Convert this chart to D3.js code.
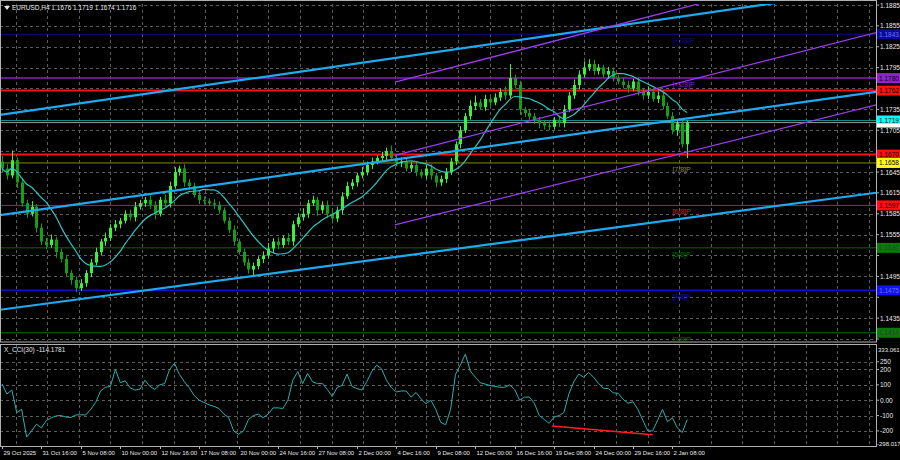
<!DOCTYPE html>
<html>
<head>
<meta charset="utf-8">
<script src="https://cdn.jsdelivr.net/npm/d3@7"></script>
<style>
  body { margin: 0; background: #000; }
  svg { display: block; font-family: "Liberation Sans", Arial, sans-serif; }
</style>
</head>
<body>
<svg id="chart" width="900" height="460"></svg>
<script>
// EURUSD H4, one candle here = 8 hours (two H4 bars)
const closePips = [
  650,640,662,630,600,585,595,565,545,540, 548,530,520,500,490,478,485,500,515,530,
  545,550,565,570,575,585,580,595,600,605, 598,585,605,600,625,645,650,630,625,612,
  605,603,600,598,590,575,562,545,530,515, 505,510,520,525,535,545,540,550,545,570,
  580,585,600,605,590,598,585,578,590,610, 625,630,640,645,655,660,665,668,675,665,
  658,660,650,655,645,640,650,640,630,635, 645,660,685,705,725,740,745,738,750,745,
  752,760,755,780,770,735,730,725,720,715, 712,710,720,715,735,755,770,785,795,800,
  790,795,785,790,780,775,770,765,775,760, 755,760,750,755,740,725,705,715,685,716
];
// wick lengths in pips, above and below the body
const wickUp = [
  8,6,14,4,6,5,8,4,6,5, 7,4,5,6,4,5,6,4,5,6, 4,8,5,6,4,5,6,7,5,4, 6,5,4,8,6,7,4,6,5,4,
  6,5,4,6,5,4,5,6,4,5, 6,5,4,6,8,5,6,4,7,5, 6,8,5,6,4,5,6,7,5,6, 6,5,4,7,5,6,4,6,5,8,
  5,6,4,5,6,4,5,6,4,5, 6,5,4,6,5,8,10,5,6,4, 6,5,8,20,5,6,4,6,5,4, 5,6,4,5,6,5,8,6,9,7,
  6,5,4,6,5,4,5,6,4,5, 6,8,5,6,4,5,6,4,5,3
];
const wickDn = [
  5,6,4,8,5,6,4,7,5,6, 4,8,5,6,7,6,4,5,6,4, 5,6,4,5,6,4,5,6,4,5, 6,8,4,5,6,4,5,6,5,4,
  6,5,4,6,5,4,5,6,4,5, 6,8,5,6,4,5,6,4,5,6, 4,5,6,4,8,5,6,7,5,6, 4,5,6,4,5,6,4,5,6,4,
  5,6,4,5,6,4,5,6,7,5, 6,4,5,6,4,5,6,4,5,6, 4,5,6,4,5,8,6,5,6,7, 6,5,4,5,6,4,5,6,4,5,
  6,5,4,6,5,4,5,6,4,5, 6,5,4,6,5,4,6,8,5,20
];
const firstOpen = 1.1660;
const cciValues = [
  106,40,66,-80,-60,-240,-200,-156,-180,-132, -115,-102,-100,-110,-112,-96,-95,-96,-60,-15,
  60,84,90,200,114,126,80,66,72,130, 90,70,100,108,200,240,168,120,80,30,
  0,-15,-30,-40,-54,-90,-114,-200,-222,-200, -126,-100,-90,-114,-90,-50,-50,-54,0,130,
  186,108,174,120,108,108,70,24,84,96, 170,90,75,66,120,186,228,204,130,80,
  54,60,60,20,50,10,-24,0,-60,-144, -160,-60,168,230,300,190,150,114,105,96,
  90,84,84,100,70,0,20,20,-20,-100, -125,-150,-110,-100,-80,40,120,170,150,180,
  150,110,78,75,48,45,6,-20,-10,-60, -130,-200,-200,-130,-60,-140,-114,-180,-210,-126
];
const dateLabels = ["29 Oct 2025","31 Oct 16:00","5 Nov 08:00","10 Nov 00:00","12 Nov 16:00",
  "17 Nov 08:00","20 Nov 00:00","24 Nov 16:00","27 Nov 08:00","2 Dec 00:00","4 Dec 16:00",
  "9 Dec 08:00","12 Dec 00:00","16 Dec 16:00","19 Dec 08:00","24 Dec 00:00","29 Dec 16:00","2 Jan 08:00"];
const priceTicks = d3.range(1.1405, 1.1886, 0.0030);
const cciTicks = [250, 200, 100, 0, -100, -200];

// Murrey levels
const levelPrices = [1.1843, 1.1780, 1.1762, 1.1719, 1.1670, 1.1658, 1.1597, 1.1536, 1.1475, 1.1414];
const levelTags   = ["[+2/8]P","[+1/8]P",null,"[8/8]P",null,"[7/8]P","[6/8]P","[5/8]P","[4/8]P","[3/8]P"];
const levelLine   = ["#0a0a8c","#8a1ec8","#ff1010","#108c8c","#ff1010","#8c8c00","#e01010","#0a6a0a","#1010c8","#0a6a0a"];
const levelBox    = ["#0a0a9c","#9020d0","#ff1010","#00ffff","#ff1010","#ffff00","#ff1010","#0a7a0a","#1010ff","#0a7a0a"];
const levelWidth  = [1,1.5,2,1,2,1,1,1,1.5,1];

// trend lines: [bar0, price0, bar1, price1]
const blueLines = [[-0.4,1.1727,160.9,1.1892],[-0.4,1.1583,177.1,1.1760],[-0.4,1.1447,177.1,1.1615]];
const purpleLines = [[79.7,1.1774,144.2,1.1892],[79.7,1.1669,177.1,1.1845],[79.7,1.1569,177.1,1.1741]];
const cciDivergence = [111.6,-168,132,-225];

const W = 876, mainTop = 4, mainBot = 341, cciTop = 345, cciBot = 446;
const svg = d3.select("#chart");
const x = d3.scaleLinear().domain([-0.4, 177.3]).range([0, W]);
const y = d3.scaleLinear().domain([1.1405, 1.1885]).range([339, 5]);
const yc = d3.scaleLinear().domain([-298.017, 333.061]).range([446, 349]);

const candles = closePips.map((p, i) => {
  const c = 1.1 + p / 10000;
  const o = i ? 1.1 + closePips[i - 1] / 10000 : firstOpen;
  return { i, o, c, h: Math.max(o, c) + wickUp[i] / 10000, l: Math.min(o, c) - wickDn[i] / 10000 };
});

svg.append("clipPath").attr("id", "mainClip").append("rect")
  .attr("x", 0).attr("y", mainTop).attr("width", W).attr("height", mainBot - mainTop);
svg.append("clipPath").attr("id", "cciClip").append("rect")
  .attr("x", 0).attr("y", cciTop).attr("width", W).attr("height", cciBot - cciTop);

// grid
const grid = svg.append("g").attr("stroke", "#5c5c5c").attr("stroke-dasharray", "3,3").attr("stroke-width", 1);
d3.range(0, 28).forEach(k => {
  const gx = Math.round(15.5 + 31.6 * k) + 0.5;
  if (gx < W) {
    grid.append("line").attr("x1", gx).attr("x2", gx).attr("y1", mainTop).attr("y2", mainBot);
    grid.append("line").attr("x1", gx).attr("x2", gx).attr("y1", cciTop).attr("y2", cciBot);
  }
});
priceTicks.forEach(t => grid.append("line").attr("x1", 0).attr("x2", W)
  .attr("y1", Math.round(y(t)) + 0.5).attr("y2", Math.round(y(t)) + 0.5));
cciTicks.forEach(t => grid.append("line").attr("x1", 0).attr("x2", W)
  .attr("y1", Math.round(yc(t)) + 0.5).attr("y2", Math.round(yc(t)) + 0.5));

const main = svg.append("g").attr("clip-path", "url(#mainClip)");

// levels
levelPrices.forEach((p, k) => {
  main.append("line").attr("x1", 0).attr("x2", W).attr("y1", y(p)).attr("y2", y(p))
    .attr("stroke", levelLine[k]).attr("stroke-width", levelWidth[k]);
  if (levelTags[k]) main.append("text").attr("x", x(136)).attr("y", y(p) + 9)
    .attr("font-size", 7).attr("fill", levelLine[k] === "#108c8c" ? "#1aa0a0" : levelLine[k]).text(levelTags[k]);
});
main.append("line").attr("x1", 0).attr("x2", W).attr("y1", y(1.1716)).attr("y2", y(1.1716))
  .attr("stroke", "#9a9a9a").attr("stroke-width", 1);

// candles
const bull = candles.filter(d => d.c >= d.o), bear = candles.filter(d => d.c < d.o);
[[bull, "#3cf03c"], [bear, "#14a014"]].forEach(([set, col]) => {
  const px = d => Math.round(x(d.i)) + 0.5;
  main.append("path").attr("stroke", col).attr("stroke-width", 1).attr("fill", "none")
    .attr("d", set.map(d => `M${px(d)},${y(d.h).toFixed(1)}V${y(d.l).toFixed(1)}`).join(""));
  main.append("path").attr("fill", col)
    .attr("d", set.map(d => {
      const top = y(Math.max(d.o, d.c)), h = Math.max(1, Math.abs(y(d.o) - y(d.c)));
      return `M${px(d) - 1.5},${top.toFixed(1)}h3v${h.toFixed(1)}h-3Z`;
    }).join(""));
});

// moving average of closes
const maLen = 10;
const ma = candles.map((d, i) => {
  const s = candles.slice(Math.max(0, i - maLen + 1), i + 1);
  return { i, v: d3.mean(s, e => e.c) };
});
main.append("path").datum(ma).attr("fill", "none").attr("stroke", "#2ec4c4").attr("stroke-width", 1.2)
  .attr("d", d3.line().x(d => x(d.i)).y(d => y(d.v)).curve(d3.curveMonotoneX));

// trend lines
function extend(l, far) {
  const [a0, p0, a1, p1] = l, s = (p1 - p0) / (a1 - a0);
  return [x(a0), y(p0), x(far), y(p0 + s * (far - a0))];
}
blueLines.forEach(l => {
  const [x1, y1, x2, y2] = extend(l, 180);
  main.append("line").attr("x1", x1).attr("y1", y1).attr("x2", x2).attr("y2", y2)
    .attr("stroke", "#1eaaf0").attr("stroke-width", 2.2);
});
purpleLines.forEach(l => {
  const [x1, y1, x2, y2] = extend(l, 180);
  main.append("line").attr("x1", x1).attr("y1", y1).attr("x2", x2).attr("y2", y2)
    .attr("stroke", "#9a3cf0").attr("stroke-width", 1.3);
});

// CCI panel
const cg2 = svg.append("g").attr("clip-path", "url(#cciClip)");
cg2.append("path").datum(cciValues).attr("fill", "none").attr("stroke", "#2ab0b0").attr("stroke-width", 1)
  .attr("d", d3.line().x((d, i) => x(i)).y(d => yc(d)));
cg2.append("line").attr("x1", x(cciDivergence[0])).attr("y1", yc(cciDivergence[1]))
  .attr("x2", x(cciDivergence[2])).attr("y2", yc(cciDivergence[3]))
  .attr("stroke", "#ff2020").attr("stroke-width", 1.5);

// frames
const frame = svg.append("g").attr("fill", "none").attr("stroke", "#b0b0b0").attr("stroke-width", 1);
frame.append("rect").attr("x", 0.5).attr("y", 0.5).attr("width", W).attr("height", mainBot + 0.5);
frame.append("rect").attr("x", 0.5).attr("y", cciTop - 0.5).attr("width", W).attr("height", cciBot - cciTop + 1);

// price axis
const ax = svg.append("g").attr("font-size", 6.5).attr("fill", "#e8e8e8");
priceTicks.forEach(t => {
  ax.append("line").attr("x1", W).attr("x2", W + 3).attr("y1", y(t)).attr("y2", y(t)).attr("stroke", "#b0b0b0");
  if (levelPrices.some(p => Math.abs(y(p) - y(t)) < 8)) return;
  ax.append("text").attr("x", W + 4).attr("y", y(t) + 2.5).text(t.toFixed(4));
});
levelPrices.forEach((p, k) => {
  ax.append("rect").attr("x", W + 1).attr("y", y(p) - 5).attr("width", 23).attr("height", 10).attr("fill", levelBox[k]);
  const dark = ["#0a0a9c", "#1010ff"].includes(levelBox[k]);
  ax.append("text").attr("x", W + 3).attr("y", y(p) + 2.5)
    .attr("fill", levelBox[k] === "#0a7a0a" ? "#3a3a3a" : (dark ? "#7070ff" : "#000")).text(p.toFixed(4));
});
ax.append("rect").attr("x", W + 1).attr("y", y(1.1716) + 1).attr("width", 23).attr("height", 4).attr("fill", "#fff");

// CCI axis
ax.append("text").attr("x", W + 2).attr("y", yc(333.061) + 2.5).attr("font-size", 6).text("333.061");
cciTicks.forEach(t => {
  ax.append("line").attr("x1", W).attr("x2", W + 3).attr("y1", yc(t)).attr("y2", yc(t)).attr("stroke", "#b0b0b0");
  ax.append("text").attr("x", W + 4).attr("y", yc(t) + 2.5).text(t === 0 ? "0.00" : t);
});
ax.append("text").attr("x", W + 1).attr("y", yc(-298.017) - 0.5).attr("font-size", 6).text("-298.017");

// time axis
dateLabels.forEach((s, k) => {
  const tx = Math.round(x(8 * k)) + 0.5;
  ax.append("line").attr("x1", tx).attr("x2", tx).attr("y1", cciBot).attr("y2", cciBot + 3).attr("stroke", "#b0b0b0");
  ax.append("text").attr("x", tx + 1).attr("y", 455).attr("font-size", 6).text(s);
});

// titles
svg.append("path").attr("d", "M4,6 L10,6 L7,10 Z").attr("fill", "#e8e8e8");
svg.append("text").attr("x", 12).attr("y", 10).attr("font-size", 6.5).attr("fill", "#e8e8e8")
  .text("EURUSD,H4  1.1676 1.1719 1.1674 1.1716");
svg.append("text").attr("x", 4).attr("y", 352).attr("font-size", 6.5).attr("fill", "#e8e8e8")
  .text("X_CCI(30) -114.1781");
</script>
</body>
</html>
